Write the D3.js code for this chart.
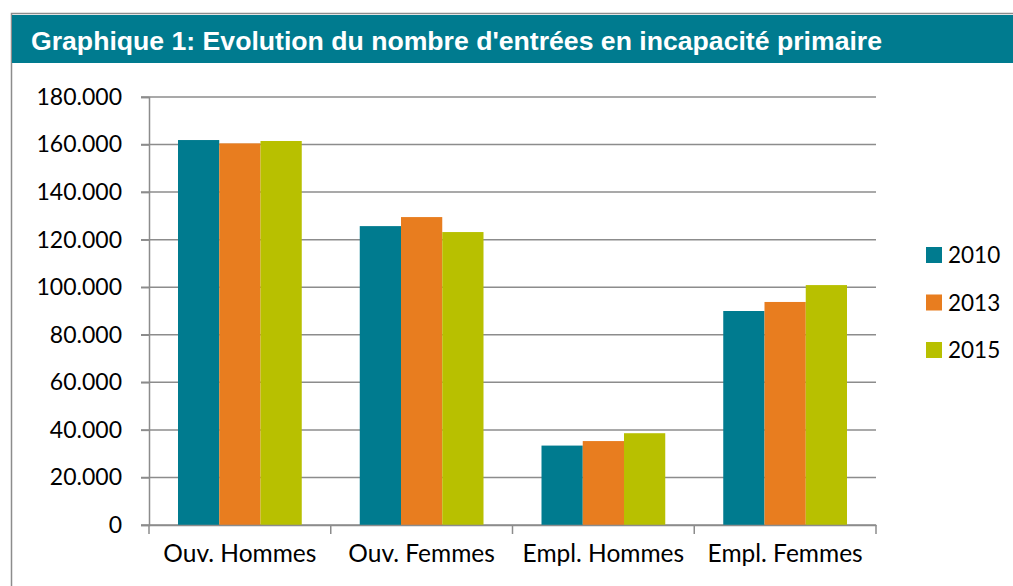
<!DOCTYPE html>
<html>
<head>
<meta charset="utf-8">
<script src="https://cdn.jsdelivr.net/npm/d3@7"></script>
<style>
  body { margin: 0; background: #fff; }
  .tick text { font-family: Lato, "Open Sans", sans-serif; fill: #000; }
</style>
</head>
<body>
<script>
// Chart data
var categories = ["Ouv. Hommes", "Ouv. Femmes", "Empl. Hommes", "Empl. Femmes"];
var years = ["2010", "2013", "2015"];
var values2010 = [161900, 125700, 33400, 90000];
var values2013 = [160500, 129500, 35300, 93800];
var values2015 = [161500, 123200, 38600, 100900];
var yTicks = [0, 20000, 40000, 60000, 80000, 100000, 120000, 140000, 160000, 180000];
var colors = ["#007b8f", "#e87d1f", "#b8c000"];

var series = [values2010, values2013, values2015];

var width = 1013, height = 586;
var svg = d3.select("body").append("svg")
    .attr("width", width)
    .attr("height", height);

// Frame and title bar
svg.append("rect")
    .attr("x", 11.5).attr("y", 13.5)
    .attr("width", width + 10).attr("height", height + 10)
    .attr("fill", "none").attr("stroke", "#8c8c8c").attr("stroke-width", 1.5);

svg.append("rect")
    .attr("x", 12).attr("y", 15)
    .attr("width", width).attr("height", 48)
    .attr("fill", "#007b8f");

svg.append("text")
    .attr("x", 31).attr("y", 50)
    .attr("font-family", "Liberation Sans, Arial, sans-serif")
    .attr("font-weight", "bold")
    .attr("font-size", 26.5)
    .attr("textLength", 851)
    .attr("lengthAdjust", "spacingAndGlyphs")
    .attr("fill", "#fff")
    .text("Graphique 1: Evolution du nombre d'entrées en incapacité primaire");

// Plot area
var margin = { left: 149, right: 1013 - 876, top: 97, bottom: 586 - 525 };

var x = d3.scaleBand()
    .domain(categories)
    .range([margin.left, 876])
    .paddingInner(0)
    .paddingOuter(0);

var xInner = d3.scaleBand()
    .domain(years)
    .range([29, x.bandwidth() - 29]);

var y = d3.scaleLinear()
    .domain([0, 180000])
    .range([525, 97]);

var fmt = function(d) {
    return d === 0 ? "0" : d3.format(",")(d).replace(/,/g, ".");
};

// Gridlines
svg.append("g")
    .selectAll("line")
    .data(yTicks)
    .enter().append("line")
    .attr("x1", 141).attr("x2", 876)
    .attr("y1", function(d) { return y(d); })
    .attr("y2", function(d) { return y(d); })
    .attr("stroke", "#8c8c8c")
    .attr("stroke-width", 1.5);

// Y axis
var yAxis = svg.append("g")
    .attr("transform", "translate(" + margin.left + ",0)")
    .call(d3.axisLeft(y).tickValues(yTicks).tickFormat(fmt).tickSize(8).tickPadding(19));
yAxis.selectAll(".tick line").attr("stroke", "#8c8c8c").attr("stroke-width", 1.5);
yAxis.select(".domain").attr("stroke", "#8c8c8c").attr("stroke-width", 1.5);
yAxis.selectAll(".tick text").attr("font-size", 23);

// Bars
var groups = svg.selectAll(".group")
    .data(categories)
    .enter().append("g")
    .attr("class", "group")
    .attr("transform", function(d) { return "translate(" + x(d) + ",0)"; });

groups.selectAll("rect")
    .data(function(d, i) {
        return years.map(function(yr, j) { return { year: yr, value: series[j][i], idx: j }; });
    })
    .enter().append("rect")
    .attr("x", function(d) { return xInner(d.year); })
    .attr("width", xInner.bandwidth())
    .attr("y", function(d) { return y(d.value); })
    .attr("height", function(d) { return y(0) - y(d.value); })
    .attr("fill", function(d) { return colors[d.idx]; });

// X axis
var xAxis = svg.append("g")
    .attr("transform", "translate(0," + 525 + ")")
    .call(d3.axisBottom(x).tickSize(0).tickPadding(20));
xAxis.select(".domain").attr("stroke", "#8c8c8c").attr("stroke-width", 1.5);
xAxis.selectAll(".tick text").attr("font-size", 24.5);

// Category separator ticks
svg.append("g")
    .selectAll("line")
    .data(categories.concat(["end"]))
    .enter().append("line")
    .attr("x1", function(d, i) { return i < categories.length ? x(d) : x(categories[categories.length - 1]) + x.bandwidth(); })
    .attr("x2", function(d, i) { return i < categories.length ? x(d) : x(categories[categories.length - 1]) + x.bandwidth(); })
    .attr("y1", 525).attr("y2", 534)
    .attr("stroke", "#8c8c8c").attr("stroke-width", 1.5);

// Legend
var legend = svg.append("g").selectAll("g")
    .data(years)
    .enter().append("g")
    .attr("transform", function(d, i) { return "translate(926," + (255 + i * 47.5) + ")"; });

legend.append("rect")
    .attr("x", 0).attr("y", -8)
    .attr("width", 16).attr("height", 16)
    .attr("fill", function(d, i) { return colors[i]; });

legend.append("text")
    .attr("x", 22).attr("y", 8)
    .attr("font-family", "Lato, 'Open Sans', sans-serif")
    .attr("font-size", 22.5)
    .text(function(d) { return d; });
</script>
</body>
</html>
